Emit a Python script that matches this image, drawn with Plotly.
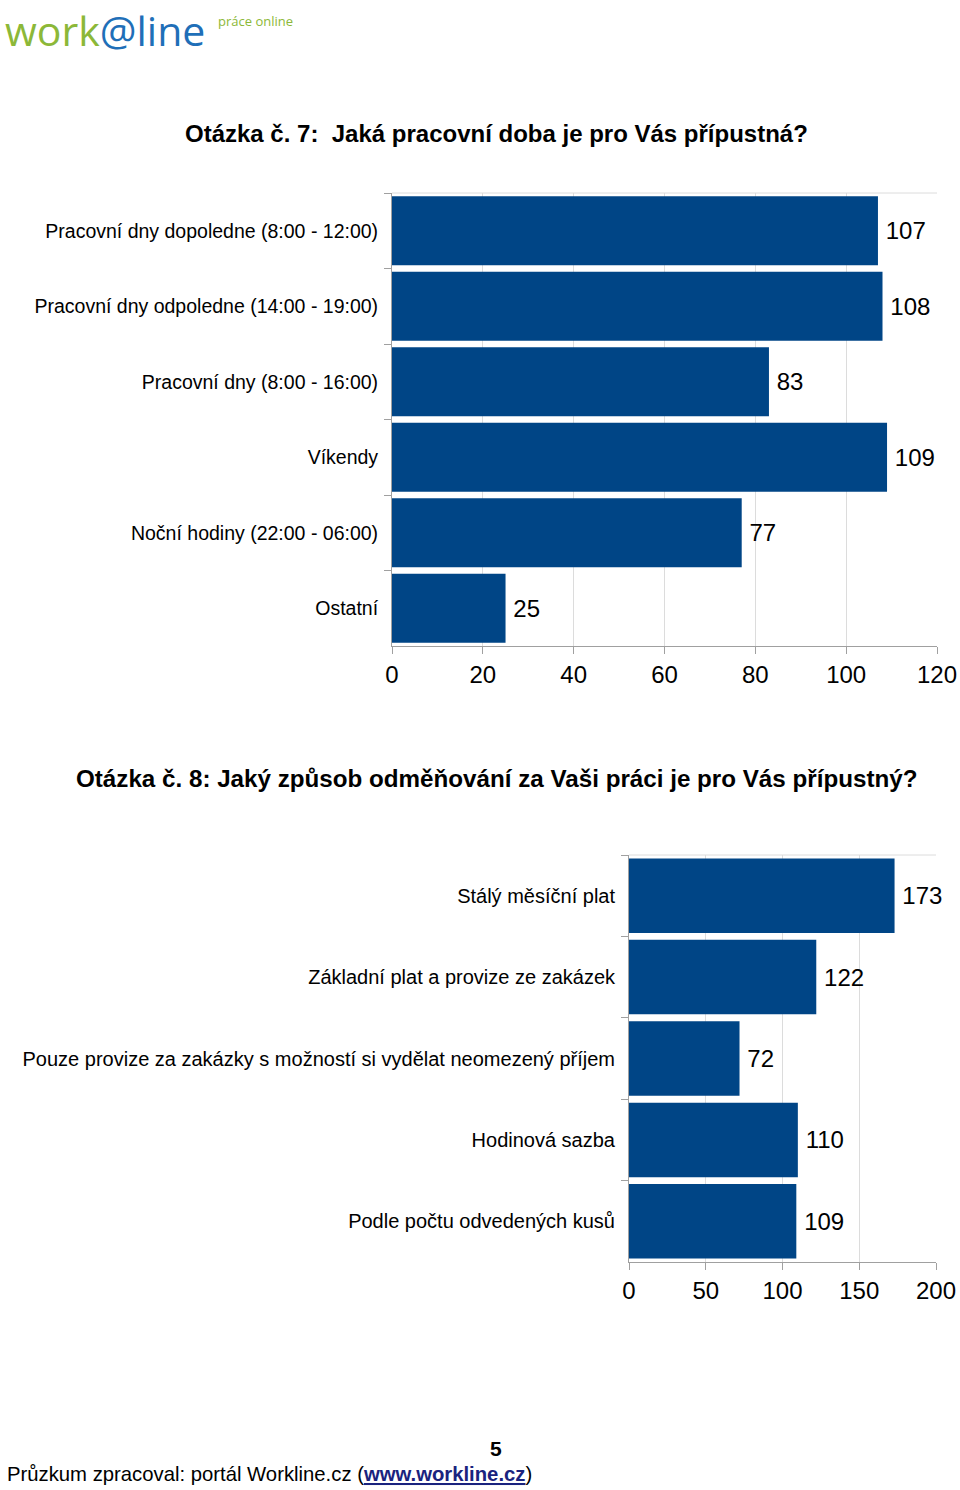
import plotly.graph_objects as go

W, H = 960, 1490

q7_categories = [
    "Pracovní dny dopoledne (8:00 - 12:00)",
    "Pracovní dny odpoledne (14:00 - 19:00)",
    "Pracovní dny (8:00 - 16:00)",
    "Víkendy",
    "Noční hodiny (22:00 - 06:00)",
    "Ostatní",
]
q7_values = [107, 108, 83, 109, 77, 25]
q7_ticks = [0, 20, 40, 60, 80, 100, 120]

q8_categories = [
    "Stálý měsíční plat",
    "Základní plat a provize ze zakázek",
    "Pouze provize za zakázky s možností si vydělat neomezený příjem",
    "Hodinová sazba",
    "Podle počtu odvedených kusů",
]
q8_values = [173, 122, 72, 110, 109]
q8_ticks = [0, 50, 100, 150, 200]

BAR = "#004586"
FONT = "Liberation Sans, Arial, sans-serif"
GRID = "#dcdcdc"
AXL = "#a0a0a0"


def px_x(p):
    return p / W


def px_y(p):
    return 1 - p / H


fig = go.Figure()

fig.add_trace(go.Bar(
    x=q7_values, y=q7_categories, orientation="h",
    marker=dict(color=BAR, line=dict(width=0)),
    text=["\u2009" + str(v) for v in q7_values], textposition="outside",
    textfont=dict(size=24, color="#000000", family=FONT),
    cliponaxis=False, xaxis="x", yaxis="y", showlegend=False,
))
fig.add_trace(go.Bar(
    x=q8_values, y=q8_categories, orientation="h",
    marker=dict(color=BAR, line=dict(width=0)),
    text=["\u2009" + str(v) for v in q8_values], textposition="outside",
    textfont=dict(size=24, color="#000000", family=FONT),
    cliponaxis=False, xaxis="x2", yaxis="y2", showlegend=False,
))

common_x = dict(
    showgrid=True, gridcolor=GRID, gridwidth=1,
    showline=True, linecolor=AXL, linewidth=1,
    ticks="outside", ticklen=7, tickcolor=AXL,
    tickfont=dict(size=24, color="#000000", family=FONT),
    zeroline=False, fixedrange=True, automargin=False,
)
common_y = dict(
    showgrid=False, showline=True, linecolor=AXL, linewidth=1,
    ticks="outside", ticklen=7, tickcolor=AXL, tickson="boundaries",
    ticklabelstandoff=9,
    autorange="reversed", type="category", fixedrange=True, automargin=False,
)

fig.update_layout(
    width=W, height=H,
    margin=dict(l=0, r=0, t=0, b=0, autoexpand=False),
    paper_bgcolor="white", plot_bgcolor="white",
    bargap=0.085,
    xaxis=dict(domain=[px_x(392), px_x(937)], range=[0, 120],
               tickvals=q7_ticks, anchor="y", **common_x),
    yaxis=dict(domain=[px_y(646), px_y(193)], anchor="x",
               categoryorder="array", categoryarray=q7_categories,
               tickfont=dict(size=19.5, color="#000000", family=FONT), **common_y),
    xaxis2=dict(domain=[px_x(629), px_x(936)], range=[0, 200],
                tickvals=q8_ticks, anchor="y2", **common_x),
    yaxis2=dict(domain=[px_y(1262), px_y(855)], anchor="x2",
                categoryorder="array", categoryarray=q8_categories,
                tickfont=dict(size=20, color="#000000", family=FONT), **common_y),
)

# light top borders of the plot frames
fig.add_shape(type="line", xref="x domain", yref="y domain", x0=0, x1=1, y0=1, y1=1,
              line=dict(color=GRID, width=1))
fig.add_shape(type="line", xref="x2 domain", yref="y2 domain", x0=0, x1=1, y0=1, y1=1,
              line=dict(color=GRID, width=1))

ann = []
# logo
ann.append(dict(
    x=px_x(3), y=px_y(30), xref="paper", yref="paper", xanchor="left", yanchor="middle",
    text="<span style='color:#8cb838'>work</span><span style='color:#1f6fb8'>@line</span>",
    showarrow=False, font=dict(size=41, family="Open Sans, sans-serif"),
))
ann.append(dict(
    x=px_x(216), y=px_y(21), xref="paper", yref="paper", xanchor="left", yanchor="middle",
    text="práce online", showarrow=False,
    font=dict(size=13, color="#8cb838", family="Open Sans, sans-serif"),
))
# titles
ann.append(dict(
    x=px_x(496), y=px_y(133), xref="paper", yref="paper", xanchor="center", yanchor="middle",
    text="<b>Otázka č. 7:  Jaká pracovní doba je pro Vás přípustná?</b>", showarrow=False,
    font=dict(size=24, color="#000000", family=FONT),
))
ann.append(dict(
    x=px_x(496), y=px_y(778), xref="paper", yref="paper", xanchor="center", yanchor="middle",
    text="<b>Otázka č. 8: Jaký způsob odměňování za Vaši práci je pro Vás přípustný?</b>",
    showarrow=False, font=dict(size=24.2, color="#000000", family=FONT),
))
# footer
ann.append(dict(
    x=px_x(496), y=px_y(1448), xref="paper", yref="paper", xanchor="center", yanchor="middle",
    text="<b>5</b>", showarrow=False, font=dict(size=21, color="#000000", family=FONT),
))
ann.append(dict(
    x=px_x(5), y=px_y(1474), xref="paper", yref="paper", xanchor="left", yanchor="middle",
    text="Průzkum zpracoval: portál Workline.cz (<b><span style='color:#1a237e;text-decoration:underline'>www.workline.cz</span></b>)",
    showarrow=False, font=dict(size=20.3, color="#000000", family=FONT),
))

fig.update_layout(annotations=ann)

fig.write_html("out.html", config={"displayModeBar": False},
               post_script="document.body.style.margin='0';")
